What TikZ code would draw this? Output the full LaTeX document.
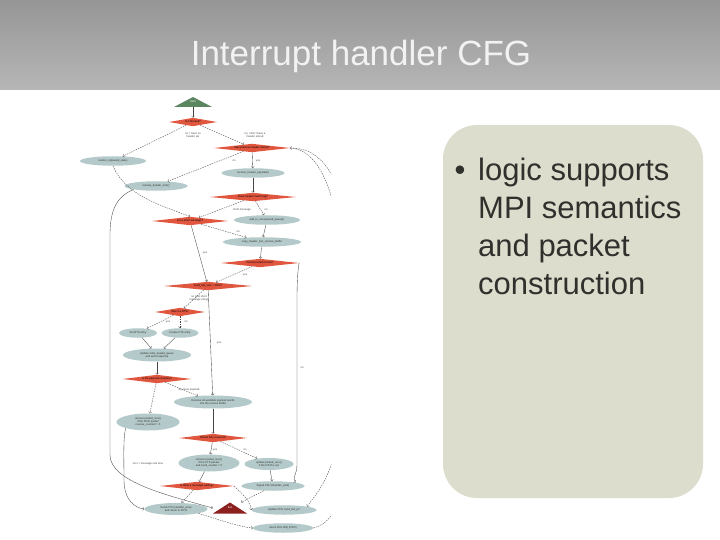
\documentclass[tikz,border=0pt]{standalone}
\usepackage{fontspec}
\setmainfont{Liberation Sans}
\usetikzlibrary{shapes.geometric}

\definecolor{titletop}{RGB}{150,150,150}
\definecolor{titlebot}{RGB}{182,182,182}
\definecolor{titletext}{RGB}{242,242,242}
\definecolor{panel}{RGB}{221,221,206}
\definecolor{textgray}{RGB}{48,48,44}
\definecolor{cfgred}{RGB}{224,86,62}
\definecolor{cfgblue}{RGB}{180,202,202}
\definecolor{cfggreen}{RGB}{92,134,96}
\definecolor{cfgexit}{RGB}{140,32,30}
\definecolor{cfgline}{RGB}{70,70,70}

\newcommand\cfgfont{\fontsize{2.7}{3.1}\selectfont}

\tikzset{
  cond/.style={diamond, fill=cfgred, shape aspect=12, inner sep=0.2pt, minimum height=8.5pt, font=\cfgfont},
  blk/.style={ellipse, fill=cfgblue, inner sep=0.3pt, minimum height=9.5pt, font=\cfgfont, text=textgray, align=center},
  tri/.style={inner sep=0pt, font=\cfgfont, text=white,
    path picture={\fill[#1] (path picture bounding box.south west) -- (path picture bounding box.south east)
      -- (path picture bounding box.north) -- cycle;}},
  flow/.style={->, line width=0.35pt, draw=cfgline},
  jump/.style={flow, dash pattern=on 1.5pt off 1pt},
  elab/.style={font=\cfgfont, text=cfgline, align=center, inner sep=0.3pt}
}

\begin{document}
\begin{tikzpicture}[x=1pt,y=-1pt]
	\useasboundingbox (0,0) rectangle (720,540);
	\fill[white] (0,0) rectangle (720,540);
	\shade[top color=titletop, bottom color=titlebot] (0,0) rectangle (720,90); %Title bar
	\node[anchor=base, font=\fontsize{35}{42}\selectfont, text=titletext] (title) at (361,66) {Interrupt handler CFG};

	% right panel
	\fill[panel, rounded corners=34pt] (443,125) rectangle (703,498);
	\node[anchor=base, font=\fontsize{31}{38}\selectfont, text=textgray] (bullet) at (460,181) {•};
	\node[anchor=north west, inner sep=0pt, align=left, font=\fontsize{31}{38}\selectfont, text=textgray] (points) at (478,158)
		{logic supports\\MPI semantics\\and packet\\construction};

	% the CFG
	\begin{scope}
		\clip (78,92) rectangle (331,540);
		\node[tri=cfggreen, minimum width=38pt, minimum height=10pt] (start) at (193,102) {Start};
		\node[cond, minimum width=48pt] (d1) at (193,122) {Is it blocked?};
		\node[blk, minimum width=66pt] (e1) at (113,161) {restore\_irq(saved\_state)};
		\node[cond, minimum width=76pt] (d2) at (252,148) {Was previous header stored?};
		\node[blk, minimum width=63pt] (e2) at (253,173) {receive\_header\_payload()};
		\node[blk, minimum width=63pt] (e3) at (156,186) {release\_header\_lock()};
		\node[cond, minimum width=86pt] (d3) at (253,197) {Does header match tag?};
		\node[cond, minimum width=76pt] (d4) at (190,221) {Is it a short message?};
		\node[blk, minimum width=66pt] (e4) at (267,220) {add\_to\_unexpected\_queue()};
		\node[blk, minimum width=78pt] (e5) at (262,242) {copy\_header\_into\_receive\_buffer};
		\node[cond, minimum width=78pt] (d5) at (260,263) {Found posted receive?};
		\node[cond, minimum width=88pt] (d6) at (208,286) {send\_hdr\_size > 1024?};
		\node[cond, minimum width=50pt] (d7) at (180,312) {Was it a RTS?};
		\node[blk, minimum width=38pt] (e6) at (138,333) {Set RTS entry};
		\node[blk, minimum width=37pt] (e7) at (180,333) {Create CTS entry};
		\node[blk, minimum width=68pt, minimum height=13pt] (e8) at (157,355) {Update entry, posted\_queue\\and send response};
		\node[cond, minimum width=69pt] (d8) at (157,379) {Is the payload complete?};
		\node[blk, minimum width=78pt, minimum height=13pt] (e9) at (213,402) {Receive all available payload words\\into the receive buffer};
		\node[blk, minimum width=63pt, minimum height=17pt] (e10) at (148,422) {remove posted\_recv()\\if the FIFO packet\\receive\_counter != 0};
		\node[cond, minimum width=68pt] (d9) at (213,438) {Packet fully received?};
		\node[blk, minimum width=61pt, minimum height=17pt] (e11) at (209,463) {remove posted\_recv()\\if the CTS packet\\and send\_counter = 0};
		\node[blk, minimum width=49pt, minimum height=12pt] (e12) at (269,464) {update posted\_recv()\\if the FIFO is set};
		\node[cond, minimum width=74pt] (d10) at (197,486) {Is there a message waiting?};
		\node[blk, minimum width=63pt] (e13) at (273,486) {Signal CPU (Handler\_post)};
		\node[blk, minimum width=63pt, minimum height=12pt] (e14) at (176,509) {Send CTS (Handler\_post)\\and return to FIFO};
		\node[tri=cfgexit, minimum width=34pt, minimum height=11pt] (exit) at (230,508) {Exit};
		\node[blk, minimum width=65pt] (e15) at (284,510) {Update CPU send\_buf\_ptr};
		\node[blk, minimum width=60pt] (e16) at (283,528) {return from IRQ (FIFO)};

		% edge labels
		\node[elab] (l1) at (193,135) {no, I have no\\header yet};
		\node[elab] (l2) at (255,135) {no, I don't have a\\header stored};
		\node[elab] (l3) at (234,161) {no};
		\node[elab] (l4) at (258,161) {yes};
		\node[elab] (l5) at (242,210) {short message};
		\node[elab] (l6) at (266,210) {no};
		\node[elab] (l7) at (238,232) {no};
		\node[elab] (l8) at (205,253) {yes};
		\node[elab] (l9) at (245,275) {yes};
		\node[elab] (l10) at (302,368) {no};
		\node[elab] (l11) at (199,298) {no (use short\\message entry)};
		\node[elab] (l12) at (168,322) {yes};
		\node[elab] (l13) at (186,322) {no};
		\node[elab] (l14) at (219,343) {yes};
		\node[elab] (l15) at (189,390) {no, more payload};
		\node[elab] (l16) at (148,464) {recv = message size else};
		\node[elab] (l17) at (215,450) {yes};
		\node[elab] (l18) at (245,450) {no};

		\draw[flow] (start) -- (d1);
		\draw[jump] (d1) -- (e1);
		\draw[jump] (d1) -- (d2);
		\draw[flow] (d2) -- (e2);
		\draw[jump] (d2) -- (e3);
		\draw[jump] (d2.east) .. controls (322,150) and (345,200) .. (345,330) .. controls (345,465) and (325,482) .. (e15.north east);
		\draw[jump] (e16.east) .. controls (340,522) and (356,480) .. (356,330) .. controls (356,168) and (318,148) .. (d2.east);
		\draw[flow] (e2) -- (d3);
		\draw[jump] (e1.south) .. controls (125,195) and (160,205) .. (d4.north);
		\draw[flow] (e3.south west) .. controls (118,196) and (110,208) .. (110,235) -- (110,455) .. controls (110,482) and (170,496) .. (exit.west);
		\draw[jump] (d3) -- (d4);
		\draw[jump] (d3) -- (e4);
		\draw[flow] (e4) -- (e5);
		\draw[jump] (d4) -- (e5);
		\draw[flow] (d4) -- (d6);
		\draw[flow] (e5) -- (d5);
		\draw[jump] (d5) -- (d6);
		\draw[flow] (d5.east) .. controls (298,268) and (297,280) .. (297,300) -- (297,465) .. controls (297,474) and (292,478) .. (e13.north east);
		\draw[jump] (d6) -- (d7);
		\draw[flow] (d6) -- (e9);
		\draw[jump] (d7) -- (e6);
		\draw[jump] (d7) -- (e7);
		\draw[flow] (e6) -- (e8);
		\draw[flow] (e7) -- (e8);
		\draw[flow] (e8) -- (d8);
		\draw[jump] (d8) -- (e9);
		\draw[jump] (d8) -- (e10);
		\draw[flow] (e9) -- (d9);
		\draw[flow] (e10.south west) .. controls (123,440) and (124,460) .. (124,480) .. controls (124,500) and (135,508) .. (e14.west);
		\draw[flow] (d9) -- (e11);
		\draw[jump] (d9) -- (e12);
		\draw[flow] (e11) -- (d10);
		\draw[flow] (e12) -- (e13);
		\draw[jump] (d10) -- (e14);
		\draw[jump] (d10.east) .. controls (242,494) and (250,500) .. (e15.west);
		\draw[jump] (e13) -- (exit);
		\draw[jump] (e14.south east) .. controls (220,520) and (240,527) .. (e16.west);
	\end{scope}
\end{tikzpicture}
\end{document}
